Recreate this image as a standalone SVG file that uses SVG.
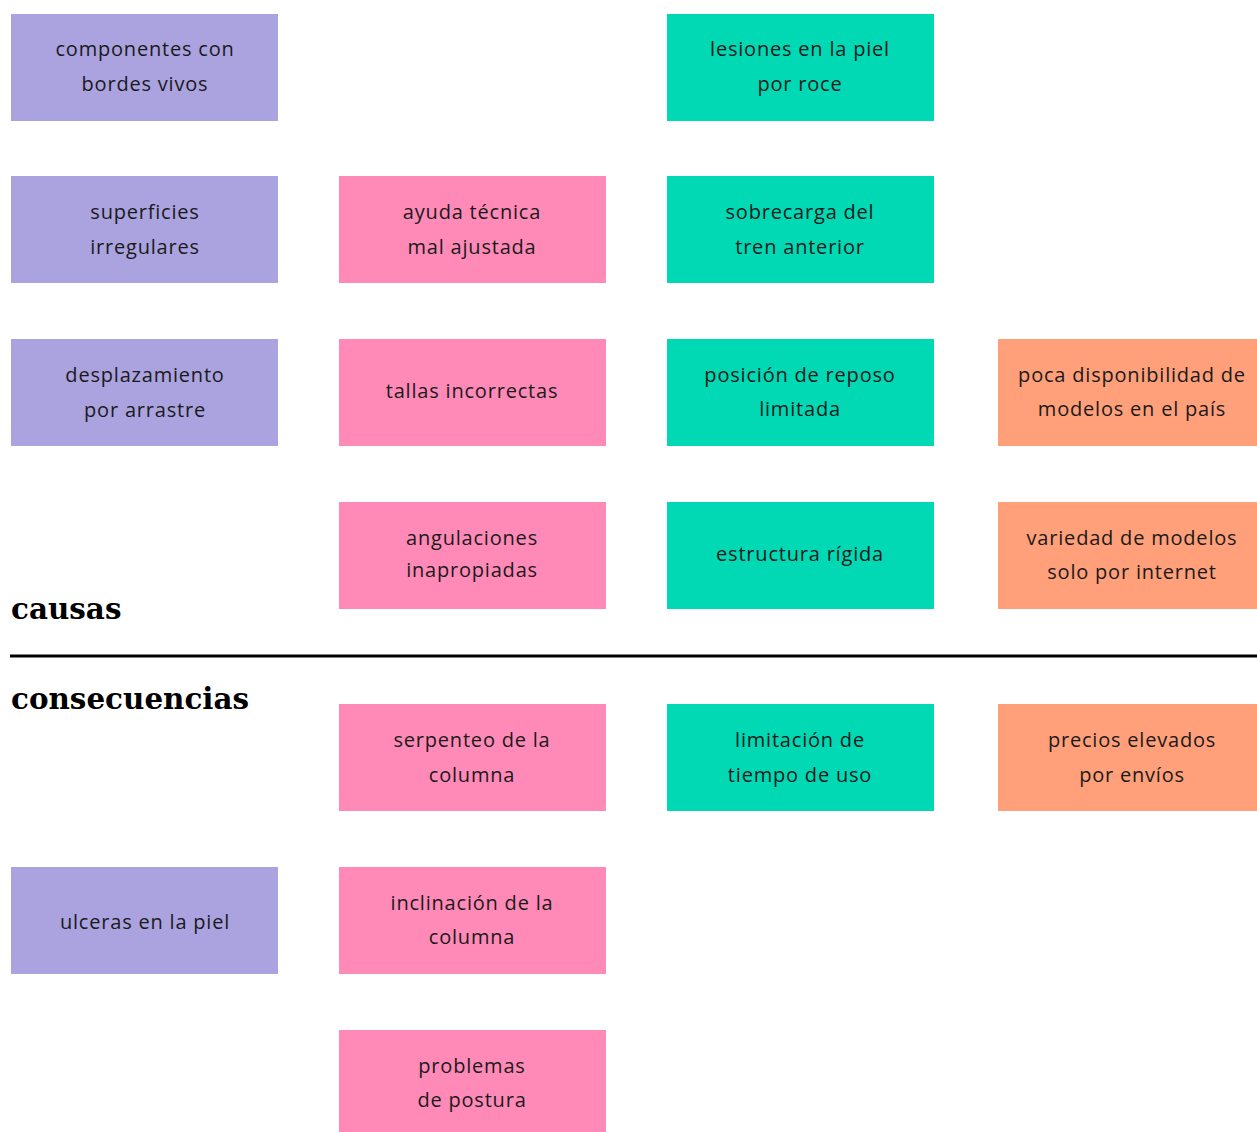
<svg xmlns="http://www.w3.org/2000/svg" width="1257" height="1132" viewBox="0 0 1257 1132">
<style>
.t{font-family:"Open Sans","Noto Sans",sans-serif;font-size:20px;letter-spacing:0.8px;fill:#1a1a1a;text-anchor:middle}
.p{fill:#ABA3E0}.k{fill:#FF8AB8}.g{fill:#00D9B4}.o{fill:#FFA07A}
.h{font-family:"DejaVu Serif",serif;font-weight:bold;font-size:29.4px;fill:#000}
</style>
<rect width="1257" height="1132" fill="#fff"/>
<g id="n1"><rect class="p" x="11" y="14" width="267" height="107"/><text class="t" x="145" y="56">componentes con</text><text class="t" x="145" y="91">bordes vivos</text></g>
<g id="n2"><rect class="p" x="11" y="176" width="267" height="107"/><text class="t" x="145" y="219">superficies</text><text class="t" x="145" y="254">irregulares</text></g>
<g id="n3"><rect class="p" x="11" y="339" width="267" height="107"/><text class="t" x="145" y="382">desplazamiento</text><text class="t" x="145" y="417">por arrastre</text></g>
<g id="n4"><rect class="k" x="339" y="176" width="267" height="107"/><text class="t" x="472" y="219">ayuda técnica</text><text class="t" x="472" y="254">mal ajustada</text></g>
<g id="n5"><rect class="k" x="339" y="339" width="267" height="107"/><text class="t" x="472" y="398">tallas incorrectas</text></g>
<g id="n6"><rect class="k" x="339" y="502" width="267" height="107"/><text class="t" x="472" y="545">angulaciones</text><text class="t" x="472" y="577">inapropiadas</text></g>
<g id="n7"><rect class="g" x="667" y="14" width="267" height="107"/><text class="t" x="800" y="56">lesiones en la piel</text><text class="t" x="800" y="91">por roce</text></g>
<g id="n8"><rect class="g" x="667" y="176" width="267" height="107"/><text class="t" x="800" y="219">sobrecarga del</text><text class="t" x="800" y="254">tren anterior</text></g>
<g id="n9"><rect class="g" x="667" y="339" width="267" height="107"/><text class="t" x="800" y="382">posición de reposo</text><text class="t" x="800" y="416">limitada</text></g>
<g id="n10"><rect class="g" x="667" y="502" width="267" height="107"/><text class="t" x="800" y="561">estructura rígida</text></g>
<g id="n11"><rect class="o" x="998" y="339" width="259" height="107"/><text class="t" x="1132" y="382">poca disponibilidad de</text><text class="t" x="1132" y="416">modelos en el país</text></g>
<g id="n12"><rect class="o" x="998" y="502" width="259" height="107"/><text class="t" x="1132" y="545">variedad de modelos</text><text class="t" x="1132" y="579">solo por internet</text></g>
<g id="causas"><text class="h" x="11" y="619">causas</text></g>
<g id="connectors"><line x1="10" y1="656" x2="1257" y2="656" stroke="#000" stroke-width="3"/></g>
<g id="consecuencias"><text class="h" x="11" y="709">consecuencias</text></g>
<g id="n13"><rect class="k" x="339" y="704" width="267" height="107"/><text class="t" x="472" y="747">serpenteo de la</text><text class="t" x="472" y="782">columna</text></g>
<g id="n14"><rect class="g" x="667" y="704" width="267" height="107"/><text class="t" x="800" y="747">limitación de</text><text class="t" x="800" y="782">tiempo de uso</text></g>
<g id="n15"><rect class="o" x="998" y="704" width="259" height="107"/><text class="t" x="1132" y="747">precios elevados</text><text class="t" x="1132" y="782">por envíos</text></g>
<g id="n16"><rect class="p" x="11" y="867" width="267" height="107"/><text class="t" x="145" y="929">ulceras en la piel</text></g>
<g id="n17"><rect class="k" x="339" y="867" width="267" height="107"/><text class="t" x="472" y="910">inclinación de la</text><text class="t" x="472" y="944">columna</text></g>
<g id="n18"><rect class="k" x="339" y="1030" width="267" height="102"/><text class="t" x="472" y="1073">problemas</text><text class="t" x="472" y="1107">de postura</text></g>
</svg>
